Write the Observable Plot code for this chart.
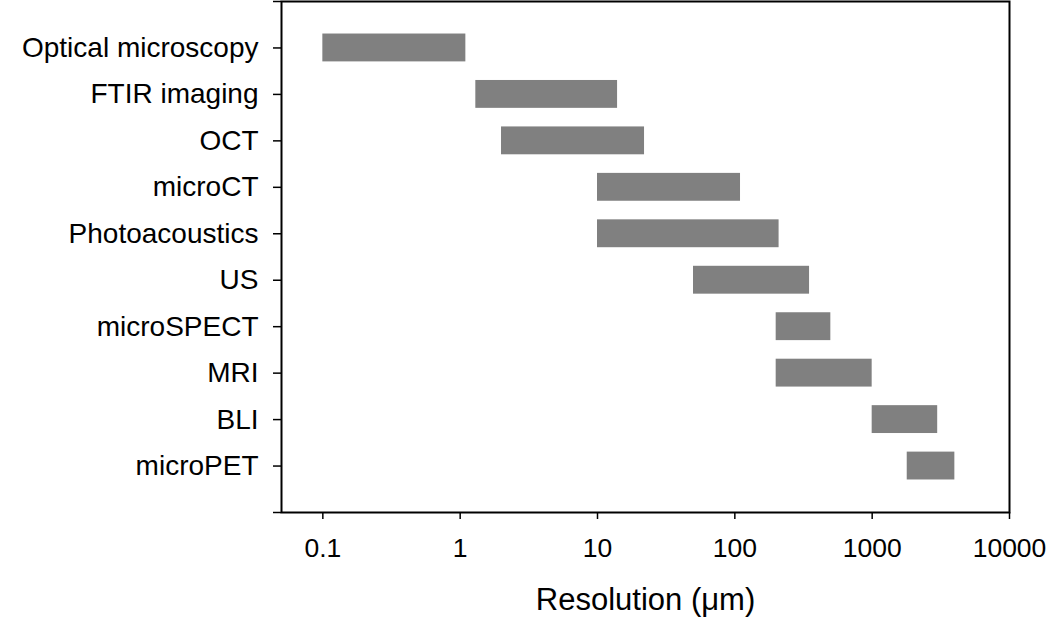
<!DOCTYPE html>
<html><head><meta charset="utf-8">
<script src="https://cdn.jsdelivr.net/npm/d3@7"></script>
<script src="https://cdn.jsdelivr.net/npm/@observablehq/plot@0.6"></script>
<style>html,body{margin:0;padding:0;background:#fff} svg{display:block}</style>
</head><body><div id="chart"></div>
<script>
const techniques = ["Optical microscopy","FTIR imaging","OCT","microCT","Photoacoustics","US","microSPECT","MRI","BLI","microPET"];
const resMin = [0.1, 1.3, 2, 10, 10, 50, 200, 200, 1000, 1800];
const resMax = [1.1, 14, 22, 110, 210, 350, 500, 1000, 3000, 4000];
const xTicks = [0.1, 1, 10, 100, 1000, 10000];
const xLabel = "Resolution (\u03BCm)";

const rows = techniques.map((t, i) => ({t, pos: i + 1, lo: resMin[i], hi: resMax[i]}));

const plot = Plot.plot({
  width: 1050, height: 627,
  marginLeft: 281, marginRight: 41, marginTop: 1, marginBottom: 115,
  style: {fontFamily: "'Liberation Sans', Arial, sans-serif", color: "#000", background: "#fff"},
  x: {type: "log", domain: [0.05, 10000]},
  y: {domain: [0, 11], reverse: true},
  marks: [
    Plot.rect(rows, {x1: "lo", x2: "hi", y1: d => d.pos - 0.3, y2: d => d.pos + 0.3, fill: "#808080"}),
    Plot.frame({stroke: "#000", strokeWidth: 2}),
    Plot.axisX({ticks: xTicks, tickFormat: d => String(d), tickSize: 7, tickPadding: 19, fontSize: 26.5, label: null, strokeWidth: 1.5}),
    Plot.axisY({ticks: d3.range(0, 12), tickFormat: d => techniques[d - 1] ?? "", tickSize: 8, tickPadding: 15, fontSize: 28, label: null, strokeWidth: 1.5}),
    Plot.text([xLabel], {frameAnchor: "bottom", dy: 97, lineAnchor: "bottom", text: d => d, fontSize: 31})
  ]
});
document.getElementById("chart").append(plot);
</script>
</body></html>
